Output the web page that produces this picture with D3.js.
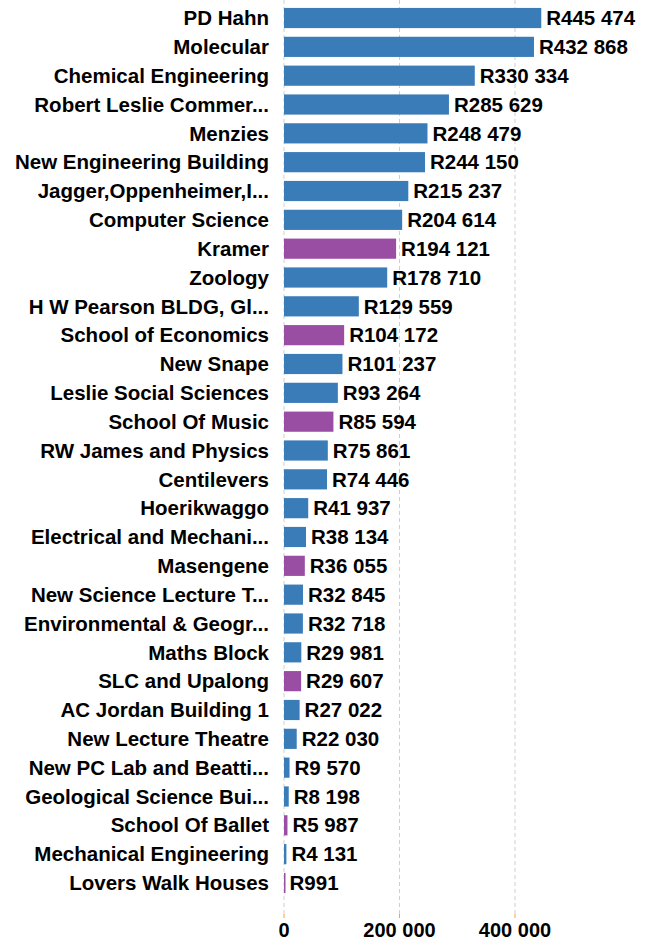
<!DOCTYPE html>
<head>
  <meta charset="utf-8">
  <script src="https://d3js.org/d3.v7.min.js"></script>
  <style>
    body { margin: 0; background: #fff; }
    text { font-family: "Liberation Sans", Arial, sans-serif; font-weight: bold; fill: #000; }
  </style>
</head>
<body>
  <svg width="651" height="942"></svg>
  <script>
    const names = ['PD Hahn', 'Molecular', 'Chemical Engineering', 'Robert Leslie Commer...', 'Menzies',
      'New Engineering Building', 'Jagger,Oppenheimer,I...', 'Computer Science', 'Kramer', 'Zoology',
      'H W Pearson BLDG, Gl...', 'School of Economics', 'New Snape', 'Leslie Social Sciences', 'School Of Music',
      'RW James and Physics', 'Centilevers', 'Hoerikwaggo', 'Electrical and Mechani...', 'Masengene',
      'New Science Lecture T...', 'Environmental & Geogr...', 'Maths Block', 'SLC and Upalong', 'AC Jordan Building 1',
      'New Lecture Theatre', 'New PC Lab and Beatti...', 'Geological Science Bui...', 'School Of Ballet',
      'Mechanical Engineering', 'Lovers Walk Houses'];
    const values = [445474, 432868, 330334, 285629, 248479, 244150, 215237, 204614, 194121, 178710,
      129559, 104172, 101237, 93264, 85594, 75861, 74446, 41937, 38134, 36055,
      32845, 32718, 29981, 29607, 27022, 22030, 9570, 8198, 5987, 4131, 991];
    // residence-type buildings drawn in purple
    const groups = ['a', 'a', 'a', 'a', 'a', 'a', 'a', 'a', 'b', 'a',
      'a', 'b', 'a', 'a', 'b', 'a', 'a', 'a', 'a', 'b',
      'a', 'a', 'a', 'b', 'a', 'a', 'a', 'a', 'b', 'a', 'b'];
    const xTicks = [0, 200000, 400000];

    const data = names.map((n, i) => ({ name: n, value: values[i], group: groups[i] }));
    const svg = d3.select('svg');

    const x = d3.scaleLinear().domain([0, 400000]).range([284, 515]);
    const y = d3.scaleBand().domain(names).range([3.6, 897.4]).paddingInner(0.3).paddingOuter(0.15);
    const color = d3.scaleOrdinal().domain(['a', 'b']).range(['#3a7cb8', '#9a4ea3']);
    const fmt = v => 'R' + d3.format(',')(v).replace(/,/g, ' ');

    // grid
    svg.append('g').selectAll('line').data(xTicks).join('line')
      .attr('x1', d => x(d)).attr('x2', d => x(d))
      .attr('y1', 0).attr('y2', 916)
      .attr('stroke', '#cfcfcf').attr('stroke-width', 1).attr('stroke-dasharray', '4,3');
    svg.append('g').selectAll('line').data(xTicks).join('line')
      .attr('x1', d => x(d)).attr('x2', d => x(d))
      .attr('y1', 914).attr('y2', 918)
      .attr('stroke', '#f5a04a').attr('stroke-width', 1);

    svg.append('g').selectAll('text').data(xTicks).join('text')
      .attr('x', d => x(d)).attr('y', 930).attr('dy', '0.35em')
      .attr('text-anchor', 'middle').style('font-size', '20px')
      .text(d => d3.format(',')(d).replace(/,/g, ' '));

    // bars
    svg.append('g').selectAll('rect').data(data).join('rect')
      .attr('x', x(0)).attr('y', d => y(d.name))
      .attr('width', d => Math.max(1.5, x(d.value) - x(0)))
      .attr('height', y.bandwidth())
      .attr('fill', d => color(d.group));

    // category labels
    svg.append('g').selectAll('text').data(data).join('text')
      .attr('x', 269).attr('y', d => y(d.name) + y.bandwidth() / 2).attr('dy', '0.35em')
      .attr('text-anchor', 'end').style('font-size', '20.5px')
      .text(d => d.name);

    // value labels
    svg.append('g').selectAll('text').data(data).join('text')
      .attr('x', d => x(d.value) + 5).attr('y', d => y(d.name) + y.bandwidth() / 2).attr('dy', '0.35em')
      .style('font-size', '20.5px')
      .text(d => fmt(d.value));
  </script>
</body>
